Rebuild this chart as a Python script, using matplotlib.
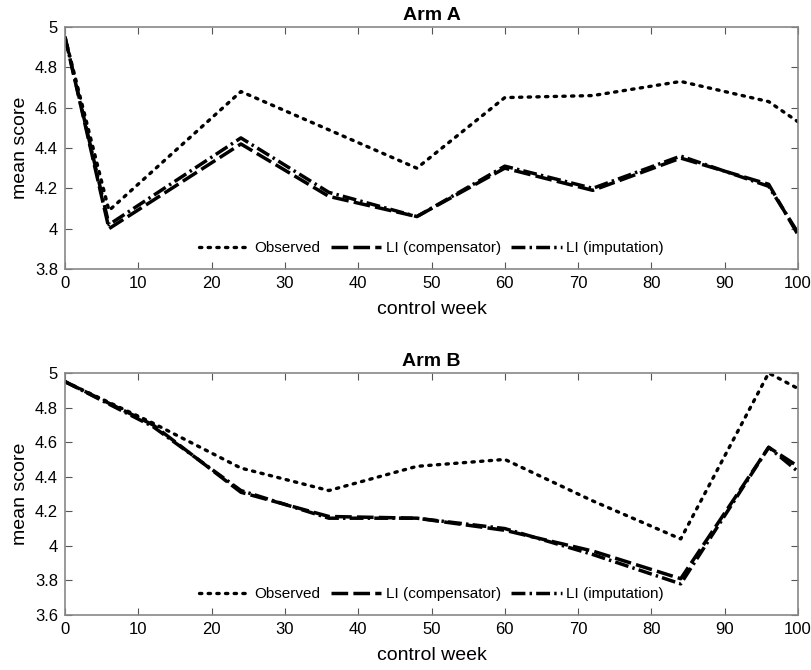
import matplotlib.pyplot as plt

plt.rcParams['font.family'] = ['Liberation Sans', 'DejaVu Sans']

# Arm A data
weeks_a = [0, 6, 24, 36, 48, 60, 72, 84, 96, 100]
obs_a = [4.95, 4.09, 4.68, 4.49, 4.30, 4.65, 4.66, 4.73, 4.63, 4.53]
comp_a = [4.95, 4.00, 4.42, 4.16, 4.06, 4.30, 4.19, 4.35, 4.22, 3.97]
imp_a = [4.95, 4.02, 4.45, 4.18, 4.06, 4.31, 4.20, 4.36, 4.21, 3.98]

# Arm B data
weeks_b = [0, 12, 24, 36, 48, 60, 72, 84, 96, 100]
obs_b = [4.95, 4.71, 4.45, 4.32, 4.46, 4.50, 4.26, 4.04, 5.00, 4.91]
comp_b = [4.95, 4.70, 4.31, 4.17, 4.16, 4.09, 3.97, 3.81, 4.57, 4.46]
imp_b = [4.95, 4.69, 4.32, 4.16, 4.16, 4.10, 3.95, 3.78, 4.57, 4.43]

labels = ['Observed', 'LI (compensator)', 'LI (imputation)']

fig = plt.figure(figsize=(8.12, 6.70), dpi=100)
ax1 = fig.add_axes([65/812, 1-269/670, 733/812, 242/670])
ax2 = fig.add_axes([65/812, 1-615/670, 733/812, 242/670])


def draw(ax, x, obs, comp, imp, title, ylim, yticks):
    ax.plot(x, obs, color='black', lw=2.4, linestyle=(0, (0.7, 1.9)),
            dash_capstyle='round', label=labels[0])
    ax.plot(x, comp, color='black', lw=2.5, linestyle=(0, (4.8, 1.5)),
            label=labels[1])
    ax.plot(x, imp, color='black', lw=2.5, linestyle=(0, (4, 1.2, 0.7, 1.2)),
            label=labels[2])
    ax.set_xlim(0, 100)
    ax.set_ylim(*ylim)
    ax.set_yticks(yticks)
    ax.set_yticklabels([('%g' % t) for t in yticks])
    ax.set_xticks(range(0, 101, 10))
    ax.tick_params(direction='in', top=True, right=True, labelsize=12,
                   color='#555555', length=5)
    ax.tick_params(axis='x', pad=5)
    ax.tick_params(axis='y', pad=5)
    for s in ax.spines.values():
        s.set_color('#888888')
        s.set_linewidth(1.2)
    ax.set_title(title, fontsize=14, fontweight='bold', pad=5)
    ax.set_xlabel('control week', fontsize=14, labelpad=7)
    ax.set_ylabel('mean score', fontsize=14, labelpad=4)
    ax.legend(loc='lower center', ncol=3, frameon=False, fontsize=11,
              handlelength=3.3, columnspacing=0.7, handletextpad=0.3,
              bbox_to_anchor=(0.5, 0.0))


draw(ax1, weeks_a, obs_a, comp_a, imp_a, 'Arm A', (3.8, 5.0),
     [3.8, 4.0, 4.2, 4.4, 4.6, 4.8, 5.0])
draw(ax2, weeks_b, obs_b, comp_b, imp_b, 'Arm B', (3.6, 5.0),
     [3.6, 3.8, 4.0, 4.2, 4.4, 4.6, 4.8, 5.0])

fig.savefig('out.png', dpi=100)
